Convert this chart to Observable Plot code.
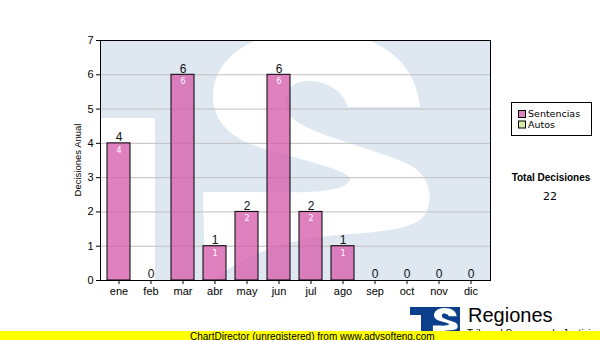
<!DOCTYPE html>
<html><head><meta charset="utf-8">
<script src="https://cdn.jsdelivr.net/npm/d3@7"></script>
<script src="https://cdn.jsdelivr.net/npm/@observablehq/plot@0.6"></script>
<style>
body{margin:0;background:#fff}
#wrap{position:relative;width:600px;height:340px;overflow:hidden;background:#fff}
#wrap svg{position:absolute;left:0;top:0}
</style>
</head><body><div id="wrap"></div>
<script>
const months = ["ene","feb","mar","abr","may","jun","jul","ago","sep","oct","nov","dic"];
const sentencias = [4,0,6,1,2,6,2,1,0,0,0,0];
const yTicks = [0,1,2,3,4,5,6,7];
const seriesNames = ["Sentencias","Autos"];
const seriesColors = ["#e083c1","#d4eca4"];
const yLabel = "Decisiones Anual";
const totalLabel = "Total Decisiones";
const totalValue = 22;
const brandName = "Regiones";
const brandSub = "Tribunal Supremo de Justicia";
const footer = "ChartDirector (unregistered) from www.advsofteng.com";

const data = months.map((m, i) => ({month: m, value: sentencias[i]}));

const W = 600, H = 340, ML = 100, MR = 110, MT = 40, MB = 60;
const sans = "'Liberation Sans', Arial, sans-serif";
const S_PATH = "M203,192 L267,192 C310,193 345,192 350,180 C352,170 300,160 262,148 C235,140 215,125 213,100 C211,60 250,33 300,31 C370,28 415,55 420,107 L348,107 C342,85 315,78 300,82 C285,86 280,105 292,118 C310,135 380,150 410,165 C432,177 436,205 420,220 C400,235 340,232 300,240 C260,250 225,265 212,285 L205,285 Z";

const chart = Plot.plot({
  width: W, height: H,
  marginLeft: ML, marginRight: MR, marginTop: MT, marginBottom: MB,
  style: {fontFamily: sans, fontSize: "11px", background: "transparent", color: "#000"},
  x: {domain: months, paddingInner: 0.28, paddingOuter: 0.14, label: null},
  y: {domain: [0, 7], label: null},
  marks: [
    Plot.gridY(yTicks, {stroke: "#c0c0c0", strokeOpacity: 1}),
    Plot.barY(data, {x: "month", y: "value", fill: "#d55aab", fillOpacity: 0.76, stroke: "#000", strokeWidth: 1}),
    Plot.text(data, {x: "month", y: "value", text: d => String(d.value), dy: -6, fill: "#111", fontSize: 12, fontFamily: sans}),
    Plot.text(data.filter(d => d.value > 0), {x: "month", y: "value", text: d => String(d.value), dy: 7, fill: "#fff", fontSize: 8, fontFamily: "'DejaVu Sans', sans-serif"}),
    Plot.axisX({tickSize: 4, tickPadding: 3, label: null, fontSize: 11}),
    Plot.axisY({ticks: yTicks, tickFormat: d3.format("d"), tickSize: 4, tickPadding: 3, label: null, fontSize: 11}),
    Plot.frame({stroke: "#000"})
  ]
});

// decorative watermark behind the marks
const svgSel = d3.select(chart);
const fw = W - ML - MR, fh = H - MT - MB;
const wm = svgSel.insert("g", "g");
wm.append("clipPath").attr("id", "wmclip").append("rect")
  .attr("x", ML).attr("y", MT).attr("width", fw).attr("height", fh);
const wmi = wm.append("g").attr("clip-path", "url(#wmclip)");
wmi.append("rect").attr("x", ML).attr("y", MT).attr("width", fw).attr("height", fh).attr("fill", "#dfe8f1");
wmi.append("rect").attr("x", ML + 1).attr("y", MT + 78).attr("width", 54).attr("height", fh - 78).attr("fill", "#fff");
wmi.append("path").attr("transform", `translate(${ML - 100},${MT - 40})`).attr("fill", "#fff").attr("d", S_PATH);

document.getElementById("wrap").appendChild(chart);

// overlay: axis title, legend, totals, brand, footer
const ov = d3.select("#wrap").append("svg").attr("width", W).attr("height", H);
ov.append("text").attr("transform", `translate(${ML - 22},${MT + fh / 2}) rotate(-90)`)
  .attr("text-anchor", "middle").attr("dy", "0.35em").attr("font-family", sans).attr("font-size", 9.5).text(yLabel);

const lg = ov.append("g");
lg.append("rect").attr("x", 511.5).attr("y", 102.5).attr("width", 80).attr("height", 33).attr("fill", "#fff").attr("stroke", "#000");
seriesNames.forEach((s, i) => {
  const y = 114 + i * 10.5;
  lg.append("rect").attr("x", 518.5).attr("y", y - 3.5).attr("width", 7).attr("height", 7).attr("fill", seriesColors[i]).attr("stroke", "#000");
  lg.append("text").attr("x", 528).attr("y", y).attr("dy", "0.35em").attr("font-family", "'DejaVu Sans', sans-serif").attr("font-size", 9.5).text(s);
});
ov.append("text").attr("x", 551).attr("y", 177.5).attr("dy", "0.35em").attr("text-anchor", "middle")
  .attr("font-family", sans).attr("font-weight", "bold").attr("font-size", 10).text(totalLabel);
ov.append("text").attr("x", 550).attr("y", 196.5).attr("dy", "0.35em").attr("text-anchor", "middle")
  .attr("font-family", "'DejaVu Sans', sans-serif").attr("font-size", 11).text(String(totalValue));

// brand logo
const lb = ov.append("g");
lb.append("clipPath").attr("id", "logoclip").append("rect").attr("x", 410).attr("y", 307).attr("width", 50).attr("height", 26);
const lgi = lb.append("g").attr("clip-path", "url(#logoclip)");
lgi.append("rect").attr("x", 410).attr("y", 307).attr("width", 50).attr("height", 26).attr("fill", "#0b3f8c");
lgi.append("rect").attr("x", 410).attr("y", 315).attr("width", 11).attr("height", 18).attr("fill", "#fff");
lgi.append("path").attr("transform", "translate(410.5,304.5) scale(0.11)").attr("fill", "#fff").attr("d", S_PATH);
lb.append("text").attr("x", 468).attr("y", 322).attr("font-family", sans).attr("font-size", 20).attr("fill", "#000").text(brandName);
lb.append("text").attr("x", 467).attr("y", 337).attr("font-family", sans).attr("font-size", 10).attr("fill", "#000").text(brandSub);

// footer
ov.append("rect").attr("x", 0).attr("y", 331).attr("width", W).attr("height", 9).attr("fill", "#ffff00");
ov.append("text").attr("x", 190).attr("y", 336).attr("dy", "0.35em").attr("font-family", sans).attr("font-size", 10).attr("fill", "#000").text(footer);
</script></body></html>
